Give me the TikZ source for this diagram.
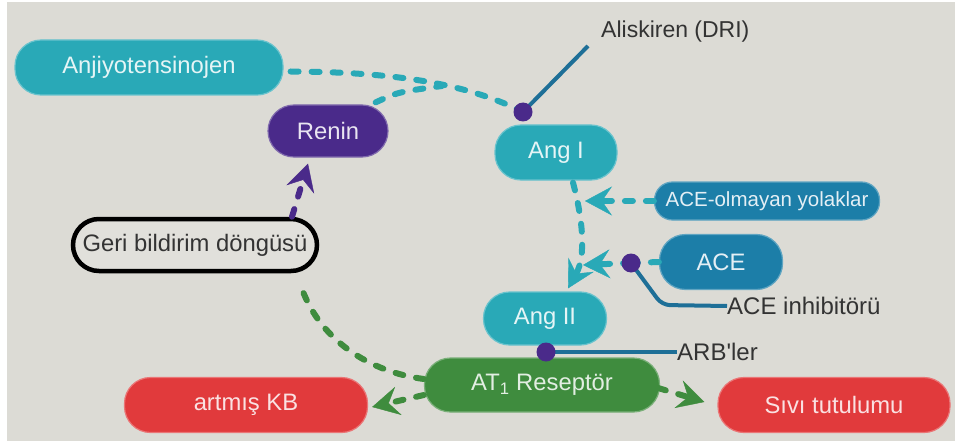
\documentclass[tikz,border=0pt]{standalone}
\usepackage{fontspec}
\setmainfont{Liberation Sans}
\usetikzlibrary{arrows.meta}
\definecolor{bgc}{HTML}{DCDBD5}
\definecolor{cyanb}{HTML}{29A9B7}
\definecolor{purp}{HTML}{4A2A8A}
\definecolor{blueb}{HTML}{1C7EA8}
\definecolor{greenb}{HTML}{3F8C3E}
\definecolor{redb}{HTML}{E13A3C}
\definecolor{inhc}{HTML}{1E6F97}
\definecolor{txtd}{HTML}{333333}
\begin{document}
\begin{tikzpicture}[x=1pt,y=-1pt,
  pill/.style={rectangle, rounded corners=26pt, minimum height=54pt, inner sep=0pt,
    font=\fontsize{23.8}{27}\selectfont, line width=1.2pt},
  cyanbox/.style={pill, fill=cyanb, draw=cyanb!70!white, text=white!88!cyanb},
  purpbox/.style={pill, fill=purp, draw=purp!70!white, text=white!88!purp},
  bluebox/.style={pill, fill=blueb, draw=blueb!70!white, text=white!88!blueb},
  greenbox/.style={pill, fill=greenb, draw=greenb!70!white, text=white!85!greenb},
  redbox/.style={pill, fill=redb, draw=redb!70!white, text=white!85!redb},
  loopbox/.style={pill, fill=bgc!85!white, draw=black, line width=4.5pt, text=txtd},
  blocker/.style={circle, fill=purp, minimum size=19pt, inner sep=0pt},
  label/.style={font=\fontsize{24}{27}\selectfont, text=txtd, inner sep=0pt, anchor=west},
  flow/.style={line width=6pt, line cap=round, dash pattern=on 8pt off 13pt},
  cyanflow/.style={flow, draw=cyanb},
  greenflow/.style={flow, draw=greenb},
  purpflow/.style={flow, draw=purp},
  tip/.style={-{Stealth[length=27pt,width=29pt,inset=10pt,line width=0.4pt]}},
  inhib/.style={draw=inhc, line width=4pt}]

\useasboundingbox (0,0) rectangle (955,441);
\fill[white] (0,0) rectangle (955,441);
\fill[bgc] (7,2) rectangle (955,441);

% boxes
\node[cyanbox, minimum width=268pt, minimum height=55pt] (anj) at (149,67.5) {Anjiyotensinojen};
\node[purpbox, minimum width=120pt, minimum height=52pt] (renin) at (328,131) {Renin};
\node[cyanbox, minimum width=122pt, minimum height=55pt] (angI) at (556,152.5) {Ang I};
\node[bluebox, minimum width=225pt, minimum height=38pt, rounded corners=18pt,
      font=\fontsize{20.5}{24}\selectfont] (aceo) at (767,201) {ACE-olmayan yolaklar};
\node[bluebox, minimum width=123pt, minimum height=55pt] (ace) at (721,262) {ACE};
\node[cyanbox, minimum width=123pt, minimum height=53pt] (angII) at (545,318.5) {Ang II};
\node[greenbox, minimum width=235pt, minimum height=54pt] (at1) at (542,385) {AT\textsubscript{1} Reseptör};
\node[redbox, minimum width=243pt, minimum height=55pt] (kb) at (246,405) {artmış KB};
\node[redbox, minimum width=232pt, minimum height=55pt] (sivi) at (834,405) {Sıvı tutulumu};
\node[loopbox, minimum width=244pt, minimum height=52pt] (geri) at (195,245) {Geri bildirim döngüsü};

% text labels of the blockers
\node[label, font=\fontsize{23}{27}\selectfont] (alisk) at (601,32) {Aliskiren (DRI)};
\node[label] (aceinh) at (727,306) {ACE inhibitörü};
\node[label] (arb) at (677,352) {ARB\textquotesingle ler};

% helper points
\coordinate (dot1pos) at (523,112);
\coordinate (dot2pos) at (631,263);
\coordinate (dot3pos) at (546,352);
\coordinate (merge) at (442,86);
\coordinate (aliskEnd) at (588,46);
\coordinate (t1) at (585,201);
\coordinate (t2) at (583,265);
\coordinate (bend) at (662,305);

% cascade connectors
\draw[cyanflow] ([shift={(7,4)}]anj.east) .. controls (380,72) and (460,80) .. (dot1pos);
\draw[cyanflow] ([shift={(-13,-2)}]renin.north east) .. controls (398,92) .. (merge);
\draw[cyanflow, tip] ([shift={(17,2)}]angI.south) .. controls (583,220) and (586,256) .. ([shift={(23,-3)}]angII.north);
\draw[cyanflow, tip] (aceo.west) -- (t1);
\draw[cyanflow] (ace.west) -- (dot2pos);
\draw[cyanflow, tip] (dot2pos) -- (t2);

% effects of AT1
\draw[greenflow, tip] ([shift={(0,10)}]at1.west) -- ([shift={(4,2)}]kb.east);
\draw[greenflow, tip] ([shift={(-2,3)}]at1.east) -- ([shift={(-13,-3)}]sivi.west);
\draw[greenflow] ([shift={(0,-6)}]at1.west) .. controls (370,372) and (318,340) .. ([shift={(105,10)}]geri.south);
\draw[purpflow, tip] ([shift={(97,0)}]geri.north) -- ([shift={(-20,6)}]renin.south);

% blockers
\draw[inhib] (dot1pos) -- (aliskEnd);
\draw[inhib, rounded corners=8pt] (dot2pos) -- (bend) -- (aceinh.west);
\draw[inhib] (dot3pos) -- (arb.west);
\node[blocker] (dot1) at (dot1pos) {};
\node[blocker] (dot2) at (dot2pos) {};
\node[blocker] (dot3) at (dot3pos) {};
\end{tikzpicture}
\end{document}
